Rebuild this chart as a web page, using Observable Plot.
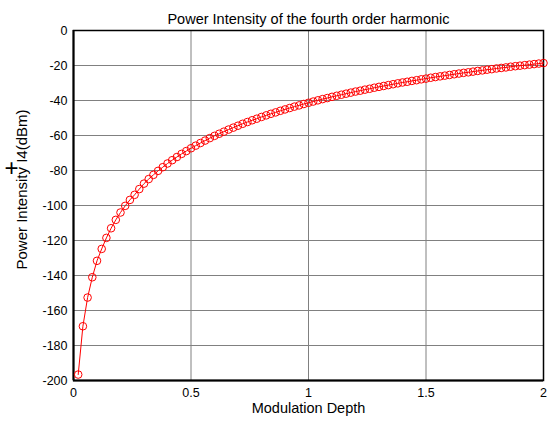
<!DOCTYPE html>
<html>
<head>
<meta charset="utf-8">
<script src="https://cdn.jsdelivr.net/npm/d3@7"></script>
<script src="https://cdn.jsdelivr.net/npm/@observablehq/plot@0.6"></script>
<style>
  html, body { margin: 0; padding: 0; background: white; }
</style>
</head>
<body>
<div id="chart"></div>
<script>
const depth = [
  0.02,0.04,0.06,0.08,0.10,0.12,0.14,0.16,0.18,0.20,
  0.22,0.24,0.26,0.28,0.30,0.32,0.34,0.36,0.38,0.40,
  0.42,0.44,0.46,0.48,0.50,0.52,0.54,0.56,0.58,0.60,
  0.62,0.64,0.66,0.68,0.70,0.72,0.74,0.76,0.78,0.80,
  0.82,0.84,0.86,0.88,0.90,0.92,0.94,0.96,0.98,1.00,
  1.02,1.04,1.06,1.08,1.10,1.12,1.14,1.16,1.18,1.20,
  1.22,1.24,1.26,1.28,1.30,1.32,1.34,1.36,1.38,1.40,
  1.42,1.44,1.46,1.48,1.50,1.52,1.54,1.56,1.58,1.60,
  1.62,1.64,1.66,1.68,1.70,1.72,1.74,1.76,1.78,1.80,
  1.82,1.84,1.86,1.88,1.90,1.92,1.94,1.96,1.98,2.00
];
const power = [
  -196.6,-169.0,-152.6,-141.0,-131.6,-124.8,-118.5,-113.0,-108.2,-104.0,
  -100.2,-96.8,-93.9,-90.6,-87.5,-84.9,-82.5,-80.2,-78.1,-76.0,
  -74.1,-72.3,-70.5,-68.9,-67.3,-65.8,-64.3,-62.9,-61.5,-60.2,
  -59.0,-57.8,-56.6,-55.5,-54.4,-53.3,-52.3,-51.3,-50.4,-49.4,
  -48.5,-47.6,-46.8,-45.9,-45.1,-44.3,-43.5,-42.8,-42.0,-41.3,
  -40.6,-39.9,-39.2,-38.6,-37.9,-37.3,-36.7,-36.1,-35.5,-34.9,
  -34.4,-33.8,-33.3,-32.7,-32.2,-31.7,-31.2,-30.7,-30.2,-29.7,
  -29.3,-28.8,-28.4,-27.9,-27.5,-27.0,-26.6,-26.2,-25.8,-25.4,
  -25.0,-24.6,-24.2,-23.9,-23.5,-23.1,-22.8,-22.4,-22.1,-21.7,
  -21.4,-21.1,-20.7,-20.4,-20.1,-19.8,-19.5,-19.2,-18.9,-18.6
];
const xTicks = [0, 0.5, 1, 1.5, 2];
const yTicks = [0, -20, -40, -60, -80, -100, -120, -140, -160, -180, -200];
const titleText = "Power Intensity of the fourth order harmonic";
const xLabel = "Modulation Depth";
const yLabel = "Power Intensity I4(dBm)";

const data = depth.map((d, i) => ({depth: d, power: power[i]}));
const fmt = d => String(d);

const chart = Plot.plot({
  width: 548,
  height: 423,
  marginLeft: 73,
  marginRight: 5,
  marginTop: 30,
  marginBottom: 43,
  style: {fontFamily: "'Liberation Sans', Arial, sans-serif", fontSize: "12px", background: "white", color: "black"},
  x: {domain: [0, 2]},
  y: {domain: [-200, 0]},
  marks: [
    Plot.gridX(xTicks, {stroke: "#808080", strokeOpacity: 1}),
    Plot.gridY(yTicks, {stroke: "#808080", strokeOpacity: 1}),
    Plot.axisX(xTicks, {tickSize: 0, tickPadding: 8, tickFormat: fmt, label: null, fontSize: 12.5}),
    Plot.axisY(yTicks, {tickSize: 0, tickPadding: 6, tickFormat: fmt, label: null, fontSize: 12.5}),
    Plot.frame({stroke: "black", strokeWidth: 1.5}),
    Plot.ruleX([0], {stroke: "black", strokeWidth: 2}),
    Plot.ruleY([-200], {stroke: "black", strokeWidth: 2}),
    Plot.line(data, {x: "depth", y: "power", stroke: "#ff0000", strokeWidth: 1}),
    Plot.dot(data, {x: "depth", y: "power", r: 3.8, stroke: "#ff0000", strokeWidth: 1, fill: "none"}),
    Plot.text([titleText], {frameAnchor: "top", dy: -17, fontSize: 14.5}),
    Plot.text([xLabel], {frameAnchor: "bottom", dy: 32, fontSize: 14.5, textAnchor: "middle"}),
    Plot.text([yLabel], {frameAnchor: "left", dx: -51, dy: -16, rotate: -90, fontSize: 15, textAnchor: "middle"}),
    Plot.text(["+"], {frameAnchor: "left", dx: -62, dy: -37, fontSize: 24, fontWeight: "300", textAnchor: "middle"})
  ]
});
document.getElementById("chart").appendChild(chart);
</script>
</body>
</html>
